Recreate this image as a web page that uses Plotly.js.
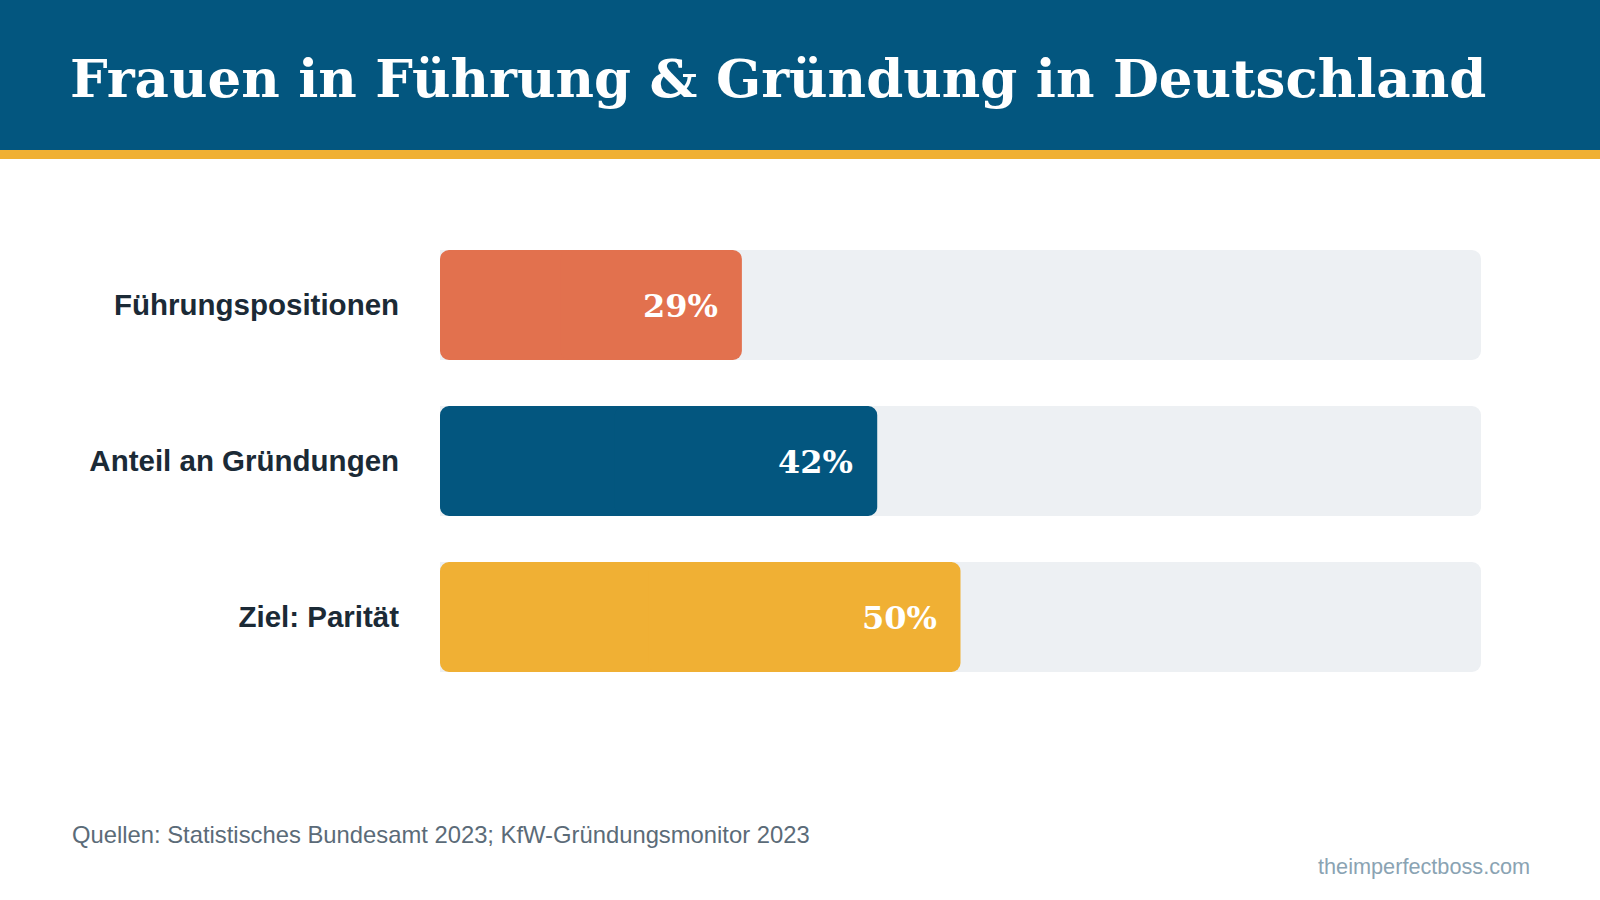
<!DOCTYPE html>
<html>
<head>
<meta charset="utf-8">
<script src="https://cdn.plot.ly/plotly-3.0.1.min.js"></script>
<style>
  html, body { margin: 0; padding: 0; background: #ffffff; }
  #chart { width: 1600px; height: 900px; }
</style>
</head>
<body>
<div id="chart"></div>
<script>
// Anteil von Frauen in Prozent
const categories = ["Führungspositionen", "Anteil an Gründungen", "Ziel: Parität"];
const values = [29, 42, 50];
const barColors = ["#E2714E", "#03567F", "#F0B034"];
const trackMax = 100;

const W = 1600, H = 900;
const plot = { left: 440, right: 1481, top: 227, bottom: 695 };
const pw = plot.right - plot.left, ph = plot.bottom - plot.top;
const px = x => (x - plot.left) / pw;
const py = y => (plot.bottom - y) / ph;

const serif = "DejaVu Serif, Liberation Serif, serif";
const sans = "Liberation Sans, Arial, sans-serif";
const barWidth = 0.705;
const radius = 9;

// grey 0–100 % track behind each bar
const track = {
  type: "bar", orientation: "h",
  y: categories, x: categories.map(() => trackMax),
  marker: { color: "#EDF0F3", cornerradius: radius },
  width: barWidth, hoverinfo: "skip", showlegend: false
};
// each value bar is drawn as two overlapping halves so both ends get rounded:
// the left half runs from its far edge back to 0 (rounded at 0),
// the right half runs from inside the bar out to the value (rounded at the value)
const barLeft = {
  type: "bar", orientation: "h",
  y: categories, base: values.map(v => v * 0.6), x: values.map(v => -v * 0.6),
  marker: { color: barColors, cornerradius: radius },
  width: barWidth, hoverinfo: "skip", showlegend: false
};
const barRight = {
  type: "bar", orientation: "h",
  y: categories, base: values.map(v => v * 0.4), x: values.map(v => v * 0.6),
  marker: { color: barColors, cornerradius: radius },
  width: barWidth, hoverinfo: "skip", showlegend: false
};

const valueLabels = values.map((v, i) => ({
  x: v, y: categories[i], xref: "x", yref: "y",
  text: v + "%", showarrow: false,
  xanchor: "right", yanchor: "middle", xshift: -22, yshift: -1,
  font: { family: serif, size: 32, color: "#ffffff", weight: "bold" }
}));

const layout = {
  width: W, height: H,
  paper_bgcolor: "#ffffff", plot_bgcolor: "#ffffff",
  margin: { l: plot.left, r: W - plot.right, t: plot.top, b: H - plot.bottom, pad: 0 },
  barmode: "overlay",
  title: {
    text: "Frauen in Führung & Gründung in Deutschland",
    x: 70 / W, xanchor: "left", xref: "container",
    y: 1 - 78 / H, yanchor: "middle", yref: "container",
    font: { family: serif, size: 53, color: "#ffffff", weight: "bold" }
  },
  xaxis: {
    range: [0, trackMax], showgrid: false, zeroline: false,
    showticklabels: false, showline: false, fixedrange: true
  },
  yaxis: {
    type: "category", autorange: "reversed",
    showgrid: false, zeroline: false, showline: false,
    ticks: "outside", ticklen: 34, tickcolor: "rgba(0,0,0,0)",
    tickfont: { family: sans, size: 29.5, color: "#1B2A36", weight: "bold" },
    fixedrange: true
  },
  shapes: [
    { type: "rect", xref: "paper", yref: "paper", layer: "below",
      x0: px(0), x1: px(W), y0: py(150), y1: py(0),
      fillcolor: "#03567F", line: { width: 0 } },
    { type: "rect", xref: "paper", yref: "paper", layer: "below",
      x0: px(0), x1: px(W), y0: py(159), y1: py(150),
      fillcolor: "#F0B034", line: { width: 0 } }
  ],
  annotations: valueLabels.concat([
    { xref: "paper", yref: "paper", x: px(70), y: py(834),
      xanchor: "left", yanchor: "middle", showarrow: false,
      text: "Quellen: Statistisches Bundesamt 2023; KfW-Gründungsmonitor 2023",
      font: { family: sans, size: 23.8, color: "#5B6B78" } },
    { xref: "paper", yref: "paper", x: px(1532), y: py(866),
      xanchor: "right", yanchor: "middle", showarrow: false,
      text: "theimperfectboss.com",
      font: { family: sans, size: 21.7, color: "#8AA3B3" } }
  ])
};

Plotly.newPlot("chart", [track, barLeft, barRight], layout, { displayModeBar: false, staticPlot: true });
</script>
</body>
</html>
